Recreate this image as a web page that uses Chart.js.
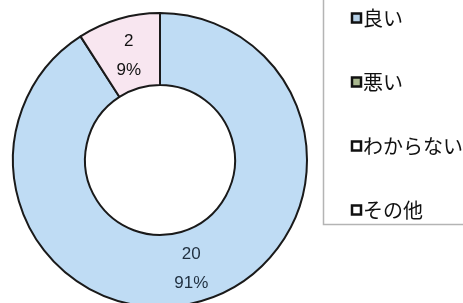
<!DOCTYPE html>
<html lang="ja">
<head>
<meta charset="utf-8">
<script src="https://cdn.jsdelivr.net/npm/chart.js@4/dist/chart.umd.min.js"></script>
<style>
html, body { margin: 0; padding: 0; background: #fff; overflow: hidden; }
#wrap { position: relative; width: 463px; height: 320px; }
</style>
</head>
<body>
<div id="wrap"><canvas id="answerChart" width="463" height="320"></canvas></div>
<script>
// answers and counts
var answerLabels = ['良い', '悪い', 'わからない', 'その他'];
var answerCounts = [20, 2, 0, 0];

// colours (kept apart from the data)
var sliceColors = ['#bfdcf4', '#f8e6f0', '#ffffff', '#ffffff'];
var legendFills = ['#b4cfe6', '#a9b88f', '#ffffff', '#ffffff'];

var total = answerCounts.reduce(function (a, b) { return a + b; }, 0);

// value + percent in the middle of each slice
var sliceLabels = {
  id: 'sliceLabels',
  afterDatasetsDraw: function (chart) {
    var ctx = chart.ctx;
    var meta = chart.getDatasetMeta(0);
    ctx.save();
    ctx.textAlign = 'center';
    ctx.textBaseline = 'middle';
    ctx.font = '17px "Liberation Sans", Arial, sans-serif';
    meta.data.forEach(function (arc, i) {
      var v = answerCounts[i];
      if (!v) return;
      var p = arc.tooltipPosition();
      var pct = Math.round(v / total * 100) + '%';
      ctx.fillStyle = i === 0 ? '#1f2f3f' : '#111';
      ctx.fillText(String(v), p.x, p.y - 12);
      ctx.fillText(pct, p.x, p.y + 17);
    });
    ctx.restore();
  }
};

// legend in a grey box on the right, like the Excel original
var boxLegend = {
  id: 'boxLegend',
  afterDraw: function (chart) {
    var ctx = chart.ctx;
    ctx.save();
    ctx.strokeStyle = '#b4b4b4';
    ctx.lineWidth = 1.5;
    ctx.strokeRect(323.5, -2, 150, 226.5);
    ctx.font = '20px "Noto Sans CJK JP", sans-serif';
    ctx.textAlign = 'left';
    ctx.textBaseline = 'middle';
    answerLabels.forEach(function (lab, i) {
      var y = 18 + i * 64;
      ctx.fillStyle = legendFills[i];
      ctx.fillRect(352, y - 4.5, 9, 9);
      ctx.strokeStyle = '#111';
      ctx.lineWidth = 2.5;
      ctx.strokeRect(352, y - 4.5, 9, 9);
      ctx.fillStyle = '#111';
      ctx.fillText(lab, 363, y);
    });
    ctx.restore();
  }
};

var ctx = document.getElementById('answerChart').getContext('2d');
var answerChart = new Chart(ctx, {
  type: 'doughnut',
  data: {
    labels: answerLabels,
    datasets: [{
      data: answerCounts,
      backgroundColor: sliceColors,
      borderColor: '#1a1a1a',
      borderWidth: 2
    }]
  },
  options: {
    responsive: false,
    animation: false,
    cutout: '51%',
    layout: {
      padding: { left: 12, top: 12, right: 155, bottom: 12 }
    },
    plugins: {
      legend: { display: false },
      tooltip: { enabled: false }
    }
  },
  plugins: [sliceLabels, boxLegend]
});
</script>
</body>
</html>
